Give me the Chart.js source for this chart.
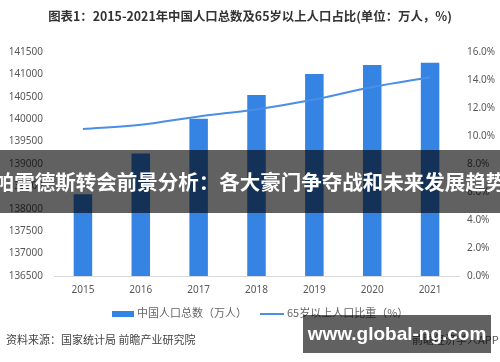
<!DOCTYPE html>
<html>
<head>
<meta charset="utf-8">
<script src="https://cdn.jsdelivr.net/npm/chart.js@4.4.1/dist/chart.umd.min.js"></script>
<style>
  body { margin: 0; background: #fff; }
  #wrap { position: relative; width: 500px; height: 362px; overflow: hidden; font-family: "Noto Sans CJK SC", "Noto Sans", sans-serif; }
  #c { position: absolute; left: 0; top: 0; }
  .t { position: absolute; white-space: nowrap; }
  #title { top: 7px; left: 0; width: 500px; text-align: center; font-size: 12.4px; font-weight: bold; color: #333; }
  .leg { top: 304px; font-size: 11px; color: #666; }
  .sw { display: inline-block; vertical-align: middle; margin-right: 3px; }
  #src { left: 6px; top: 331px; font-size: 11px; color: #444; }
  #app { left: 412px; top: 331px; font-size: 11px; color: #555; }
  #banner { position: absolute; left: 0; top: 150px; width: 500px; height: 63px; background: rgba(0,0,0,0.62); }
  #bannerTxt { position: absolute; left: -12px; top: 150px; width: 524px; height: 63px; line-height: 63px; text-align: center; color: #fff; font-weight: bold; font-size: 20.5px; white-space: nowrap; }
  #wm { position: absolute; left: 303px; top: 315px; width: 188px; height: 38px; background: rgba(0,0,0,0.62); color: #fff; font-weight: bold; font-size: 19px; line-height: 38px; text-align: center; white-space: nowrap; font-family: "Liberation Sans", Arial, sans-serif; }
</style>
</head>
<body>
<div id="wrap">
  <canvas id="c" width="500" height="362"></canvas>
  <div class="t" id="title">图表1：2015-2021年中国人口总数及65岁以上人口占比(单位：万人，%)</div>
  <div class="t leg" style="left:112px"><span class="sw" style="width:22px;height:6px;background:#3584e4"></span>中国人口总数（万人）</div>
  <div class="t leg" style="left:260px"><span class="sw" style="width:24px;height:2px;background:#4a8fe6"></span>65岁以上人口比重（%）</div>
  <div class="t" id="src">资料来源：国家统计局 前瞻产业研究院</div>
  <div class="t" id="app">前瞻经济学人APP</div>
  <div id="banner"></div>
  <div id="bannerTxt">帕雷德斯转会前景分析：各大豪门争夺战和未来发展趋势</div>
  <div id="wm">www.global-ng.com</div>
</div>
<script>
var years = ["2015", "2016", "2017", "2018", "2019", "2020", "2021"];
var population = [138326, 139232, 140011, 140541, 141008, 141212, 141260];
var over65Share = [10.5, 10.8, 11.4, 11.9, 12.6, 13.5, 14.2];

var tickFont = { family: "Noto Sans", size: 10 };

new Chart(document.getElementById("c"), {
  data: {
    labels: years,
    datasets: [
      {
        type: "line",
        label: "65岁以上人口比重（%）",
        data: over65Share,
        yAxisID: "y1",
        borderColor: "#4a8fe6",
        borderWidth: 2,
        pointRadius: 0,
        tension: 0.35,
        order: 0
      },
      {
        type: "bar",
        label: "中国人口总数（万人）",
        data: population,
        yAxisID: "y",
        backgroundColor: "#3584e4",
        categoryPercentage: 1,
        barPercentage: 0.32,
        order: 1
      }
    ]
  },
  options: {
    responsive: false,
    animation: false,
    layout: { padding: { top: 52, bottom: 66, left: 0, right: 0 } },
    plugins: { legend: { display: false }, tooltip: { enabled: false } },
    scales: {
      x: {
        grid: { display: false },
        border: { color: "#d9d9d9" },
        ticks: { color: "#595959", font: tickFont, padding: 0 }
      },
      y: {
        position: "left",
        min: 136500, max: 141500,
        grid: { display: false },
        border: { display: false },
        ticks: {
          stepSize: 500, color: "#595959", font: tickFont, padding: 3,
          callback: function (v) { return String(v); }
        },
        afterFit: function (s) { s.width = 54; }
      },
      y1: {
        position: "right",
        min: 0, max: 16,
        grid: { display: false },
        border: { display: false },
        ticks: {
          stepSize: 2, color: "#595959", font: tickFont, padding: 0,
          callback: function (v) { return v.toFixed(1) + "%"; }
        },
        afterFit: function (s) { s.width = 41; }
      }
    }
  }
});
</script>
</body>
</html>
